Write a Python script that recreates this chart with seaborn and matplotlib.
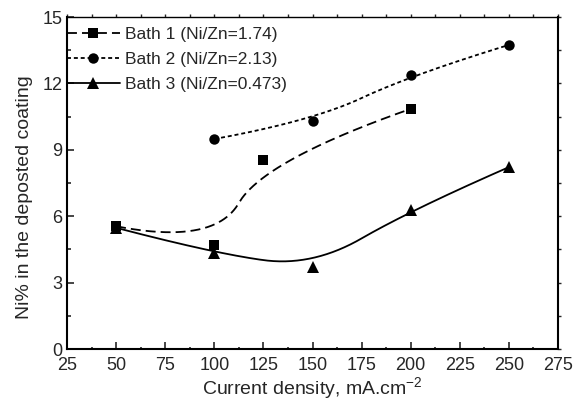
import numpy as np
import seaborn as sns
import matplotlib.pyplot as plt
from matplotlib.lines import Line2D
from matplotlib.ticker import MultipleLocator, NullFormatter

# data
bath1_x = [50, 100, 125, 200]
bath1_y = [5.55, 4.68, 8.52, 10.85]
bath2_x = [100, 150, 200, 250]
bath2_y = [9.49, 10.3, 12.38, 13.74]
bath3_x = [50, 100, 150, 200, 250]
bath3_y = [5.48, 4.32, 3.72, 6.28, 8.22]

labels = ['Bath 1 (Ni/Zn=1.74)', 'Bath 2 (Ni/Zn=2.13)', 'Bath 3 (Ni/Zn=0.473)']


def bspline(x, y, k=2, n=300):
    # clamped B-spline with the data points as control points (Origin's B-Spline line)
    pts = np.column_stack([x, y]).astype(float)
    m = len(pts)
    k = min(k, m - 1)
    inner = np.linspace(0, 1, m - k + 1)[1:-1]
    knots = np.concatenate([np.zeros(k + 1), inner, np.ones(k + 1)])
    t = np.linspace(0, 1 - 1e-9, n)
    N = np.zeros((n, len(knots) - 1))
    for i in range(len(knots) - 1):
        N[:, i] = (knots[i] <= t) & (t < knots[i + 1])
    for d in range(1, k + 1):
        Nn = np.zeros((n, len(knots) - d - 1))
        for i in range(len(knots) - d - 1):
            a = knots[i + d] - knots[i]
            b = knots[i + d + 1] - knots[i + 1]
            left = (t - knots[i]) / a * N[:, i] if a > 0 else 0
            right = (knots[i + d + 1] - t) / b * N[:, i + 1] if b > 0 else 0
            Nn[:, i] = left + right
        N = Nn
    out = N @ pts
    out[-1] = pts[-1]
    return out[:, 0], out[:, 1]


sns.set_theme(style='ticks')
plt.rcParams['font.family'] = ['Liberation Sans', 'DejaVu Sans']
plt.rcParams['mathtext.fontset'] = 'custom'
plt.rcParams['mathtext.rm'] = 'Liberation Sans'

fig = plt.figure(figsize=(5.76, 4.05), dpi=100)
ax = fig.add_axes([0.1163, 0.138, 0.8525, 0.82])

styles = [
    dict(ls=(0, (5.5, 2.8)), marker='s', ms=7),
    dict(ls=(0, (2.2, 1.6)), marker='o', ms=7.5),
    dict(ls='-', marker='^', ms=8),
]
points = [(bath1_x, bath1_y), (bath2_x, bath2_y), (bath3_x, bath3_y)]

for (px, py), st in zip(points, styles):
    cx, cy = bspline(px, py)
    sns.lineplot(x=cx, y=cy, ax=ax, color='black', lw=1.3, linestyle=st['ls'],
                 sort=False, estimator=None)
    ax.plot(px, py, linestyle='none', marker=st['marker'], ms=st['ms'],
            color='black', markeredgewidth=0)

handles = [Line2D([], [], color='black', lw=1.3, linestyle=st['ls'], marker=st['marker'],
                  ms=st['ms'], markeredgewidth=0) for st in styles]
ax.legend(handles, labels, loc='upper left', bbox_to_anchor=(-0.011, 0.985),
          frameon=False, fontsize=12.5, handlelength=3.05, handletextpad=0.3,
          borderaxespad=0.0, borderpad=0.3, labelspacing=0.56)

ax.set_xlim(25, 275)
ax.set_ylim(0, 15)
ax.xaxis.set_major_locator(MultipleLocator(25))
ax.xaxis.set_minor_locator(MultipleLocator(12.5))
ax.yaxis.set_major_locator(MultipleLocator(3))
ax.yaxis.set_minor_locator(MultipleLocator(1.5))
ax.tick_params(which='both', direction='in', labelsize=13, width=1.2)
ax.tick_params(which='major', length=5)
ax.tick_params(which='minor', length=3)
ax.tick_params(axis='x', which='minor', length=1.5)
ax.tick_params(axis='x', pad=6)
for sp in ax.spines.values():
    sp.set_linewidth(1.5)
    sp.set_color('black')
ax.spines['top'].set_linewidth(1.0)

# tiny outward ticks on top and right, as in the original
top = ax.secondary_xaxis('top')
top.xaxis.set_major_locator(MultipleLocator(12.5))
top.xaxis.set_major_formatter(NullFormatter())
top.tick_params(direction='out', length=2, width=1)
top.spines['top'].set_visible(False)
right = ax.secondary_yaxis('right')
right.yaxis.set_major_locator(MultipleLocator(1.5))
right.yaxis.set_major_formatter(NullFormatter())
right.tick_params(direction='out', length=2, width=1)
right.spines['right'].set_visible(False)

ax.set_xlabel('Current density, mA.cm$^{-2}$', fontsize=14, labelpad=1)
ax.set_ylabel('Ni% in the deposted coating', fontsize=14)
ax.yaxis.set_label_coords(-0.069, 0.458)

fig.savefig('out.png', dpi=100)
